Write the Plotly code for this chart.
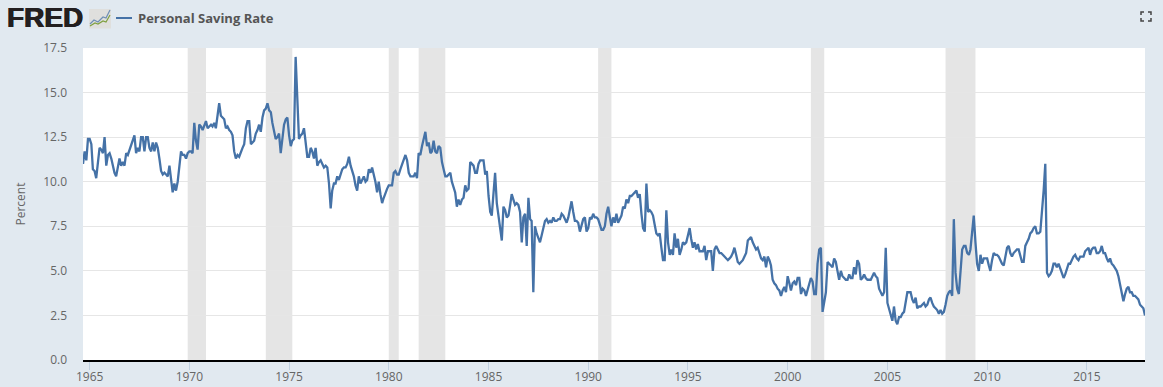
import pandas as pd
import plotly.graph_objects as go

SERIES_NAME = "Personal Saving Rate"
Y_TITLE = "Percent"
START_MONTH = "1964-09-01"

y1964 = [11.0, 11.7, 11.2, 12.4]
y1965 = [12.4, 12.1, 10.7, 10.6, 10.2, 11.0, 11.9, 11.8, 11.6, 12.5, 10.9, 11.5]
y1966 = [11.6, 11.3, 10.9, 10.5, 10.3, 10.9, 11.3, 10.9, 11.1, 10.9, 11.6, 11.5]
y1967 = [11.8, 12.1, 12.4, 12.6, 11.6, 11.9, 11.7, 12.5, 12.5, 11.7, 12.5, 12.5]
y1968 = [11.9, 11.7, 12.2, 11.7, 12.2, 11.9, 11.3, 10.6, 10.4, 10.5, 10.4, 10.3]
y1969 = [10.9, 10.0, 9.4, 9.9, 9.5, 10.0, 10.9, 11.7, 11.5, 11.5, 11.3, 11.6]
y1970 = [11.7, 11.7, 11.6, 13.3, 12.3, 11.8, 13.2, 13.1, 12.9, 13.1, 13.4, 13.0]
y1971 = [13.1, 13.2, 13.1, 13.3, 13.0, 13.7, 14.4, 13.7, 13.6, 13.5, 13.0, 13.1]
y1972 = [12.9, 12.8, 12.6, 11.7, 11.3, 11.5, 11.4, 11.7, 11.9, 12.1, 13.0, 13.4]
y1973 = [13.4, 12.1, 12.2, 12.3, 12.7, 12.9, 13.2, 12.8, 13.6, 14.0, 14.1, 14.4]
y1974 = [14.0, 13.9, 13.3, 12.9, 12.4, 12.5, 12.7, 11.6, 12.4, 13.2, 13.5, 13.6]
y1975 = [12.6, 12.0, 12.3, 12.4, 17.0, 14.2, 12.4, 12.6, 12.7, 13.0, 12.2, 11.4]
y1976 = [11.4, 11.9, 11.7, 11.3, 11.9, 10.9, 11.1, 11.2, 11.0, 10.8, 10.9, 10.8]
y1977 = [9.9, 8.5, 9.5, 9.9, 9.9, 10.3, 10.1, 10.4, 10.7, 10.8, 10.8, 11.0]
y1978 = [11.4, 10.9, 10.6, 10.3, 9.8, 9.5, 10.3, 9.9, 10.1, 10.3, 10.0, 10.1]
y1979 = [10.7, 10.5, 10.8, 10.4, 10.0, 9.4, 10.0, 9.3, 8.8, 9.1, 9.4, 9.6]
y1980 = [9.8, 9.8, 9.8, 10.5, 10.6, 10.4, 10.4, 10.7, 11.0, 11.3, 11.5, 11.2]
y1981 = [10.5, 10.3, 10.3, 10.3, 10.5, 10.2, 11.6, 11.5, 12.0, 12.5, 12.8, 12.0]
y1982 = [12.2, 11.6, 11.7, 12.3, 11.7, 11.6, 12.0, 11.9, 11.1, 10.7, 10.3, 10.3]
y1983 = [10.4, 10.5, 10.0, 9.7, 9.4, 8.6, 9.0, 8.7, 9.0, 9.1, 9.8, 9.5]
y1984 = [9.6, 11.1, 11.0, 10.9, 10.5, 10.5, 11.0, 11.2, 11.2, 11.2, 10.4, 10.6]
y1985 = [9.2, 8.3, 8.1, 9.3, 10.5, 8.8, 8.0, 7.3, 6.7, 8.6, 8.4, 8.0]
y1986 = [8.1, 8.7, 9.3, 9.0, 8.7, 8.8, 8.7, 8.3, 6.6, 8.0, 8.2, 6.4]
y1987 = [9.1, 7.9, 7.8, 3.8, 7.5, 7.1, 6.9, 6.6, 7.0, 7.5, 7.8, 7.9]
y1988 = [7.7, 7.8, 7.7, 8.0, 7.8, 7.8, 7.9, 7.9, 8.2, 8.1, 7.9, 7.7]
y1989 = [8.0, 8.4, 8.9, 8.3, 7.8, 7.8, 7.7, 7.2, 7.6, 7.9, 8.0, 7.2]
y1990 = [7.4, 8.0, 7.9, 8.2, 8.0, 8.0, 7.9, 7.6, 7.3, 7.3, 7.5, 8.2]
y1991 = [8.6, 8.0, 7.5, 8.0, 7.7, 8.2, 7.7, 7.9, 8.1, 8.6, 8.5, 9.0]
y1992 = [8.8, 9.2, 9.2, 9.3, 9.4, 9.5, 9.1, 9.3, 8.2, 7.4, 7.2, 9.9]
y1993 = [8.3, 8.4, 8.3, 8.1, 7.6, 7.1, 7.0, 7.1, 6.3, 5.6, 5.6, 8.4]
y1994 = [6.6, 5.9, 6.2, 5.9, 7.1, 6.3, 6.8, 5.9, 6.2, 6.6, 6.5, 6.6]
y1995 = [7.0, 7.4, 6.8, 6.3, 6.6, 6.2, 6.5, 6.1, 6.1, 6.1, 6.4, 5.6]
y1996 = [6.1, 6.1, 6.1, 5.0, 6.2, 6.4, 6.2, 6.0, 6.0, 5.9, 5.8, 5.7]
y1997 = [5.6, 5.7, 5.8, 6.0, 6.3, 5.9, 5.5, 5.4, 5.5, 5.6, 5.8, 6.0]
y1998 = [6.7, 6.8, 6.9, 6.6, 6.4, 6.2, 6.3, 6.0, 5.7, 5.6, 5.8, 5.2]
y1999 = [5.8, 5.6, 5.3, 4.5, 4.3, 4.2, 4.0, 3.9, 3.6, 3.9, 4.1, 3.8]
y2000 = [4.7, 4.3, 3.9, 4.3, 4.4, 4.2, 4.6, 4.6, 3.7, 4.0, 3.9, 3.6]
y2001 = [4.0, 4.3, 4.6, 4.4, 3.7, 3.7, 5.4, 6.2, 6.3, 2.7, 3.4, 3.8]
y2002 = [5.5, 5.4, 5.3, 5.2, 5.7, 5.5, 5.0, 4.5, 5.0, 4.7, 4.6, 4.5]
y2003 = [4.5, 4.8, 4.6, 4.6, 5.2, 4.8, 5.6, 5.4, 4.5, 4.6, 4.8, 4.6]
y2004 = [4.5, 4.5, 4.5, 4.7, 4.9, 4.7, 4.6, 4.0, 3.8, 3.6, 3.8, 6.3]
y2005 = [3.2, 2.9, 2.6, 2.2, 3.0, 2.2, 2.0, 2.4, 2.4, 2.6, 2.7, 3.2]
y2006 = [3.8, 3.8, 3.8, 3.4, 3.2, 3.5, 2.9, 3.0, 3.0, 3.1, 3.2, 3.0]
y2007 = [3.1, 3.4, 3.5, 3.2, 3.0, 2.9, 2.8, 2.6, 2.8, 2.6, 2.7, 3.1]
y2008 = [3.6, 3.8, 3.9, 3.6, 7.9, 4.9, 4.0, 3.7, 4.9, 6.2, 6.4, 6.4]
y2009 = [6.0, 5.9, 6.2, 7.4, 8.1, 6.6, 5.4, 5.0, 5.9, 5.4, 5.7, 5.7]
y2010 = [5.7, 5.3, 5.0, 5.6, 6.0, 5.9, 5.9, 5.8, 5.6, 5.4, 5.3, 5.9]
y2011 = [6.3, 6.4, 6.0, 5.8, 6.0, 6.1, 6.2, 6.2, 5.8, 5.5, 5.5, 6.4]
y2012 = [6.6, 6.8, 7.1, 7.2, 7.4, 7.5, 7.1, 7.1, 7.2, 8.2, 9.5, 11.0]
y2013 = [4.9, 4.7, 4.8, 5.0, 5.4, 5.4, 5.2, 5.4, 5.1, 4.8, 4.6, 4.8]
y2014 = [5.1, 5.4, 5.4, 5.6, 5.8, 5.9, 5.7, 5.6, 5.8, 5.8, 5.8, 6.1]
y2015 = [6.2, 6.3, 5.9, 6.2, 6.3, 6.3, 6.0, 6.0, 6.1, 6.4, 6.0, 6.0]
y2016 = [5.7, 5.5, 5.7, 5.4, 5.3, 5.1, 5.0, 4.7, 4.2, 3.8, 3.3, 3.7]
y2017 = [4.0, 4.1, 3.8, 3.8, 3.6, 3.6, 3.5, 3.4, 3.1, 3.0, 2.9, 2.5]

recession_starts = ["1969-12-01", "1973-11-01", "1980-01-01", "1981-07-01", "1990-07-01", "2001-03-01", "2007-12-01"]
recession_ends = ["1970-11-01", "1975-03-01", "1980-07-01", "1982-11-01", "1991-03-01", "2001-11-01", "2009-06-01"]

y_ticks = [0, 2.5, 5, 7.5, 10, 12.5, 15, 17.5]
x_tick_years = list(range(1965, 2016, 5))

values = []
for yr in range(1964, 2018):
    values += globals()[f"y{yr}"]
dates = pd.date_range(START_MONTH, periods=len(values), freq="MS")

BG = "#e1e9f0"
LINE = "#4572a7"
TXT = "#666666"
W, H = 1163, 387
L, R, T, B = 83, 18, 48, 27
PW, PH = W - L - R, H - T - B


def px(x):
    return (x - L) / PW


def py(y):
    return (H - B - y) / PH


def path(points):
    return "M" + " L".join(f"{px(a):.5f},{py(b):.5f}" for a, b in points)


fig = go.Figure()
fig.add_trace(go.Scatter(
    x=dates, y=values, mode="lines", name=SERIES_NAME,
    line=dict(color=LINE, width=2.3, shape="linear"),
    showlegend=False, hoverinfo="x+y",
))

shapes = []
for s, e in zip(recession_starts, recession_ends):
    shapes.append(dict(type="rect", xref="x", yref="paper", x0=s, x1=e, y0=0, y1=1,
                       fillcolor="#e5e5e5", line=dict(width=0), layer="below"))

# legend key
shapes.append(dict(type="line", xref="paper", yref="paper", x0=px(116), x1=px(132), y0=py(18), y1=py(18),
                   line=dict(color=LINE, width=2)))
# FRED graph icon
shapes.append(dict(type="rect", xref="paper", yref="paper", x0=px(89), x1=px(111), y0=py(28.5), y1=py(9),
                   fillcolor="#dfdfdd", line=dict(width=0)))
shapes.append(dict(type="path", xref="paper", yref="paper",
                   path=path([(90, 24), (94, 20), (98, 22), (103, 17), (106, 18), (110, 10)]),
                   line=dict(color="#6f8fb5", width=1.2)))
shapes.append(dict(type="path", xref="paper", yref="paper",
                   path=path([(90, 26), (95, 23), (98, 24), (103, 21), (106, 22), (110, 15)]),
                   line=dict(color="#7fa040", width=1.2)))
# fullscreen icon corners
C = "#444444"
for pts in ([(1141, 15), (1141, 12), (1144, 12)], [(1148, 12), (1151, 12), (1151, 15)],
            [(1141, 18), (1141, 21), (1144, 21)], [(1148, 21), (1151, 21), (1151, 18)]):
    shapes.append(dict(type="path", xref="paper", yref="paper", path=path(pts), line=dict(color=C, width=1.5)))

annotations = [
    dict(text="<b>FRED</b>", xref="paper", yref="paper", x=px(5), y=py(18), xanchor="left", yanchor="middle",
         showarrow=False,
         font=dict(family="Liberation Sans", size=28, color="#231f20",
                   shadow="0.6px 0 #231f20, -0.6px 0 #231f20")),
    dict(text=f"<b>{SERIES_NAME}</b>", xref="paper", yref="paper", x=px(136), y=py(18), xanchor="left",
         yanchor="middle", showarrow=False, font=dict(family="Open Sans", size=13, color="#555555")),
]

fig.update_layout(
    width=W, height=H, autosize=False,
    margin=dict(l=L, r=R, t=T, b=B, pad=0),
    paper_bgcolor=BG, plot_bgcolor="#ffffff",
    font=dict(family="Open Sans", size=12, color=TXT),
    showlegend=False, shapes=shapes, annotations=annotations,
    xaxis=dict(
        automargin=False,
        range=[START_MONTH, "2017-12-01"], tickmode="array",
        tickvals=[f"{y}-01-01" for y in x_tick_years], ticktext=[str(y) for y in x_tick_years],
        showgrid=False, zeroline=False, showline=True, linecolor="#000000", linewidth=2,
        ticks="outside", ticklen=8, tickwidth=1, tickcolor="#c0d0e0", ticklabelstandoff=-3,
        tickfont=dict(size=12, color=TXT),
    ),
    yaxis=dict(
        automargin=False,
        range=[0, 17.5], tickmode="array", tickvals=y_ticks, ticktext=[f"{v:.1f}" for v in y_ticks],
        showgrid=True, gridcolor="#e6e6e6", gridwidth=1, zeroline=False, showline=False,
        ticks="", ticklabelstandoff=15, tickfont=dict(size=12, color=TXT),
        title=dict(text=Y_TITLE, font=dict(size=12, color=TXT), standoff=15),
    ),
)

fig.write_html("out.html", config=dict(displayModeBar=False),
               post_script="document.body.style.margin='0';document.documentElement.style.background='#e1e9f0';")
